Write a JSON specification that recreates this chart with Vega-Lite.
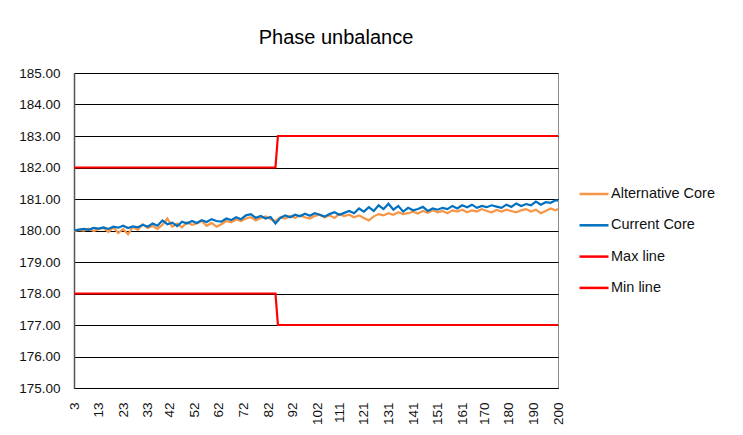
{
  "$schema": "https://vega.github.io/schema/vega-lite/v6.json",
  "width": 484,
  "height": 315,
  "padding": {"left": 18, "top": 28, "right": 5, "bottom": 5},
  "background": "white",
  "config": {
    "font": "Liberation Sans",
    "view": {"stroke": "#8c8c8c", "strokeWidth": 1}
  },
  "title": {
    "text": "Phase unbalance",
    "fontSize": 20,
    "fontWeight": "normal",
    "color": "#000000",
    "font": "Liberation Sans",
    "anchor": "middle",
    "dx": 20,
    "offset": 18
  },
  "data": {
    "values": [
      {"series": "Alternative Core", "x": 3, "v": 179.98},
      {"series": "Alternative Core", "x": 5, "v": 180.02},
      {"series": "Alternative Core", "x": 7, "v": 180.00},
      {"series": "Alternative Core", "x": 9, "v": 180.06},
      {"series": "Alternative Core", "x": 11, "v": 179.98},
      {"series": "Alternative Core", "x": 13, "v": 180.04},
      {"series": "Alternative Core", "x": 15, "v": 180.08},
      {"series": "Alternative Core", "x": 17, "v": 179.95},
      {"series": "Alternative Core", "x": 19, "v": 180.10},
      {"series": "Alternative Core", "x": 21, "v": 179.92},
      {"series": "Alternative Core", "x": 23, "v": 180.05},
      {"series": "Alternative Core", "x": 25, "v": 179.88},
      {"series": "Alternative Core", "x": 27, "v": 180.12},
      {"series": "Alternative Core", "x": 29, "v": 180.02},
      {"series": "Alternative Core", "x": 31, "v": 180.20},
      {"series": "Alternative Core", "x": 33, "v": 180.08},
      {"series": "Alternative Core", "x": 35, "v": 180.14},
      {"series": "Alternative Core", "x": 37, "v": 180.05},
      {"series": "Alternative Core", "x": 39, "v": 180.18},
      {"series": "Alternative Core", "x": 41, "v": 180.38},
      {"series": "Alternative Core", "x": 43, "v": 180.12},
      {"series": "Alternative Core", "x": 45, "v": 180.22},
      {"series": "Alternative Core", "x": 47, "v": 180.10},
      {"series": "Alternative Core", "x": 49, "v": 180.26},
      {"series": "Alternative Core", "x": 51, "v": 180.18},
      {"series": "Alternative Core", "x": 53, "v": 180.22},
      {"series": "Alternative Core", "x": 55, "v": 180.30},
      {"series": "Alternative Core", "x": 57, "v": 180.15},
      {"series": "Alternative Core", "x": 59, "v": 180.24},
      {"series": "Alternative Core", "x": 61, "v": 180.12},
      {"series": "Alternative Core", "x": 63, "v": 180.20},
      {"series": "Alternative Core", "x": 65, "v": 180.30},
      {"series": "Alternative Core", "x": 67, "v": 180.26},
      {"series": "Alternative Core", "x": 69, "v": 180.35},
      {"series": "Alternative Core", "x": 71, "v": 180.30},
      {"series": "Alternative Core", "x": 73, "v": 180.38},
      {"series": "Alternative Core", "x": 75, "v": 180.42},
      {"series": "Alternative Core", "x": 77, "v": 180.32},
      {"series": "Alternative Core", "x": 79, "v": 180.40},
      {"series": "Alternative Core", "x": 81, "v": 180.45},
      {"series": "Alternative Core", "x": 83, "v": 180.36},
      {"series": "Alternative Core", "x": 85, "v": 180.30},
      {"series": "Alternative Core", "x": 87, "v": 180.42},
      {"series": "Alternative Core", "x": 89, "v": 180.38},
      {"series": "Alternative Core", "x": 91, "v": 180.46},
      {"series": "Alternative Core", "x": 93, "v": 180.40},
      {"series": "Alternative Core", "x": 95, "v": 180.48},
      {"series": "Alternative Core", "x": 97, "v": 180.42},
      {"series": "Alternative Core", "x": 99, "v": 180.38},
      {"series": "Alternative Core", "x": 101, "v": 180.46},
      {"series": "Alternative Core", "x": 103, "v": 180.50},
      {"series": "Alternative Core", "x": 105, "v": 180.42},
      {"series": "Alternative Core", "x": 107, "v": 180.48},
      {"series": "Alternative Core", "x": 109, "v": 180.40},
      {"series": "Alternative Core", "x": 111, "v": 180.52},
      {"series": "Alternative Core", "x": 113, "v": 180.46},
      {"series": "Alternative Core", "x": 115, "v": 180.50},
      {"series": "Alternative Core", "x": 117, "v": 180.42},
      {"series": "Alternative Core", "x": 119, "v": 180.48},
      {"series": "Alternative Core", "x": 121, "v": 180.40},
      {"series": "Alternative Core", "x": 123, "v": 180.32},
      {"series": "Alternative Core", "x": 125, "v": 180.45},
      {"series": "Alternative Core", "x": 127, "v": 180.52},
      {"series": "Alternative Core", "x": 129, "v": 180.48},
      {"series": "Alternative Core", "x": 131, "v": 180.55},
      {"series": "Alternative Core", "x": 133, "v": 180.50},
      {"series": "Alternative Core", "x": 135, "v": 180.58},
      {"series": "Alternative Core", "x": 137, "v": 180.52},
      {"series": "Alternative Core", "x": 139, "v": 180.55},
      {"series": "Alternative Core", "x": 141, "v": 180.60},
      {"series": "Alternative Core", "x": 143, "v": 180.54},
      {"series": "Alternative Core", "x": 145, "v": 180.62},
      {"series": "Alternative Core", "x": 147, "v": 180.56},
      {"series": "Alternative Core", "x": 149, "v": 180.64},
      {"series": "Alternative Core", "x": 151, "v": 180.58},
      {"series": "Alternative Core", "x": 153, "v": 180.62},
      {"series": "Alternative Core", "x": 155, "v": 180.55},
      {"series": "Alternative Core", "x": 157, "v": 180.64},
      {"series": "Alternative Core", "x": 159, "v": 180.60},
      {"series": "Alternative Core", "x": 161, "v": 180.66},
      {"series": "Alternative Core", "x": 163, "v": 180.58},
      {"series": "Alternative Core", "x": 165, "v": 180.64},
      {"series": "Alternative Core", "x": 167, "v": 180.60},
      {"series": "Alternative Core", "x": 169, "v": 180.68},
      {"series": "Alternative Core", "x": 171, "v": 180.62},
      {"series": "Alternative Core", "x": 173, "v": 180.58},
      {"series": "Alternative Core", "x": 175, "v": 180.65},
      {"series": "Alternative Core", "x": 177, "v": 180.60},
      {"series": "Alternative Core", "x": 179, "v": 180.66},
      {"series": "Alternative Core", "x": 181, "v": 180.62},
      {"series": "Alternative Core", "x": 183, "v": 180.58},
      {"series": "Alternative Core", "x": 185, "v": 180.64},
      {"series": "Alternative Core", "x": 187, "v": 180.68},
      {"series": "Alternative Core", "x": 189, "v": 180.60},
      {"series": "Alternative Core", "x": 191, "v": 180.66},
      {"series": "Alternative Core", "x": 193, "v": 180.55},
      {"series": "Alternative Core", "x": 195, "v": 180.62},
      {"series": "Alternative Core", "x": 197, "v": 180.70},
      {"series": "Alternative Core", "x": 199, "v": 180.64},
      {"series": "Alternative Core", "x": 200, "v": 180.68},
      {"series": "Current Core", "x": 3, "v": 180.00},
      {"series": "Current Core", "x": 5, "v": 180.03},
      {"series": "Current Core", "x": 7, "v": 180.05},
      {"series": "Current Core", "x": 9, "v": 180.02},
      {"series": "Current Core", "x": 11, "v": 180.08},
      {"series": "Current Core", "x": 13, "v": 180.06},
      {"series": "Current Core", "x": 15, "v": 180.10},
      {"series": "Current Core", "x": 17, "v": 180.05},
      {"series": "Current Core", "x": 19, "v": 180.12},
      {"series": "Current Core", "x": 21, "v": 180.09},
      {"series": "Current Core", "x": 23, "v": 180.15},
      {"series": "Current Core", "x": 25, "v": 180.08},
      {"series": "Current Core", "x": 27, "v": 180.13},
      {"series": "Current Core", "x": 29, "v": 180.10},
      {"series": "Current Core", "x": 31, "v": 180.18},
      {"series": "Current Core", "x": 33, "v": 180.12},
      {"series": "Current Core", "x": 35, "v": 180.22},
      {"series": "Current Core", "x": 37, "v": 180.15},
      {"series": "Current Core", "x": 39, "v": 180.32},
      {"series": "Current Core", "x": 41, "v": 180.20},
      {"series": "Current Core", "x": 43, "v": 180.25},
      {"series": "Current Core", "x": 45, "v": 180.14},
      {"series": "Current Core", "x": 47, "v": 180.28},
      {"series": "Current Core", "x": 49, "v": 180.22},
      {"series": "Current Core", "x": 51, "v": 180.30},
      {"series": "Current Core", "x": 53, "v": 180.24},
      {"series": "Current Core", "x": 55, "v": 180.33},
      {"series": "Current Core", "x": 57, "v": 180.27},
      {"series": "Current Core", "x": 59, "v": 180.36},
      {"series": "Current Core", "x": 61, "v": 180.30},
      {"series": "Current Core", "x": 63, "v": 180.28},
      {"series": "Current Core", "x": 65, "v": 180.38},
      {"series": "Current Core", "x": 67, "v": 180.33},
      {"series": "Current Core", "x": 69, "v": 180.42},
      {"series": "Current Core", "x": 71, "v": 180.36},
      {"series": "Current Core", "x": 73, "v": 180.48},
      {"series": "Current Core", "x": 75, "v": 180.52},
      {"series": "Current Core", "x": 77, "v": 180.40},
      {"series": "Current Core", "x": 79, "v": 180.46},
      {"series": "Current Core", "x": 81, "v": 180.38},
      {"series": "Current Core", "x": 83, "v": 180.43},
      {"series": "Current Core", "x": 85, "v": 180.22},
      {"series": "Current Core", "x": 87, "v": 180.40},
      {"series": "Current Core", "x": 89, "v": 180.48},
      {"series": "Current Core", "x": 91, "v": 180.42},
      {"series": "Current Core", "x": 93, "v": 180.50},
      {"series": "Current Core", "x": 95, "v": 180.45},
      {"series": "Current Core", "x": 97, "v": 180.53},
      {"series": "Current Core", "x": 99, "v": 180.47},
      {"series": "Current Core", "x": 101, "v": 180.55},
      {"series": "Current Core", "x": 103, "v": 180.50},
      {"series": "Current Core", "x": 105, "v": 180.44},
      {"series": "Current Core", "x": 107, "v": 180.52},
      {"series": "Current Core", "x": 109, "v": 180.58},
      {"series": "Current Core", "x": 111, "v": 180.50},
      {"series": "Current Core", "x": 113, "v": 180.56},
      {"series": "Current Core", "x": 115, "v": 180.62},
      {"series": "Current Core", "x": 117, "v": 180.55},
      {"series": "Current Core", "x": 119, "v": 180.70},
      {"series": "Current Core", "x": 121, "v": 180.60},
      {"series": "Current Core", "x": 123, "v": 180.74},
      {"series": "Current Core", "x": 125, "v": 180.62},
      {"series": "Current Core", "x": 127, "v": 180.80},
      {"series": "Current Core", "x": 129, "v": 180.68},
      {"series": "Current Core", "x": 131, "v": 180.85},
      {"series": "Current Core", "x": 133, "v": 180.66},
      {"series": "Current Core", "x": 135, "v": 180.78},
      {"series": "Current Core", "x": 137, "v": 180.60},
      {"series": "Current Core", "x": 139, "v": 180.72},
      {"series": "Current Core", "x": 141, "v": 180.64},
      {"series": "Current Core", "x": 143, "v": 180.68},
      {"series": "Current Core", "x": 145, "v": 180.75},
      {"series": "Current Core", "x": 147, "v": 180.62},
      {"series": "Current Core", "x": 149, "v": 180.70},
      {"series": "Current Core", "x": 151, "v": 180.66},
      {"series": "Current Core", "x": 153, "v": 180.72},
      {"series": "Current Core", "x": 155, "v": 180.68},
      {"series": "Current Core", "x": 157, "v": 180.78},
      {"series": "Current Core", "x": 159, "v": 180.70},
      {"series": "Current Core", "x": 161, "v": 180.80},
      {"series": "Current Core", "x": 163, "v": 180.74},
      {"series": "Current Core", "x": 165, "v": 180.82},
      {"series": "Current Core", "x": 167, "v": 180.72},
      {"series": "Current Core", "x": 169, "v": 180.78},
      {"series": "Current Core", "x": 171, "v": 180.74},
      {"series": "Current Core", "x": 173, "v": 180.80},
      {"series": "Current Core", "x": 175, "v": 180.76},
      {"series": "Current Core", "x": 177, "v": 180.72},
      {"series": "Current Core", "x": 179, "v": 180.82},
      {"series": "Current Core", "x": 181, "v": 180.75},
      {"series": "Current Core", "x": 183, "v": 180.86},
      {"series": "Current Core", "x": 185, "v": 180.78},
      {"series": "Current Core", "x": 187, "v": 180.84},
      {"series": "Current Core", "x": 189, "v": 180.80},
      {"series": "Current Core", "x": 191, "v": 180.92},
      {"series": "Current Core", "x": 193, "v": 180.82},
      {"series": "Current Core", "x": 195, "v": 180.90},
      {"series": "Current Core", "x": 197, "v": 180.88},
      {"series": "Current Core", "x": 199, "v": 180.96},
      {"series": "Current Core", "x": 200, "v": 180.95},
      {"series": "Max line", "x": 3, "v": 182},
      {"series": "Max line", "x": 85, "v": 182},
      {"series": "Max line", "x": 86, "v": 183},
      {"series": "Max line", "x": 200, "v": 183},
      {"series": "Min line", "x": 3, "v": 178},
      {"series": "Min line", "x": 85, "v": 178},
      {"series": "Min line", "x": 86, "v": 177},
      {"series": "Min line", "x": 200, "v": 177}
    ]
  },
  "mark": {"type": "line", "strokeWidth": 2.2, "clip": true},
  "encoding": {
    "x": {
      "field": "x",
      "type": "quantitative",
      "scale": {"domain": [3, 200], "nice": false, "zero": false},
      "axis": {
        "title": null,
        "values": [3, 13, 23, 33, 42, 52, 62, 72, 82, 92, 102, 111, 121, 131, 141, 151, 161, 170, 180, 190, 200],
        "labelAngle": -90,
        "labelFontSize": 13.5,
        "labelColor": "#111111",
        "labelPadding": 14,
        "ticks": false,
        "tickSize": 0,
        "grid": false,
        "domainColor": "#000000",
        "domainWidth": 1,
        "labelFlush": false,
        "labelOverlap": false
      }
    },
    "y": {
      "field": "v",
      "type": "quantitative",
      "scale": {"domain": [175, 185], "nice": false, "zero": false},
      "axis": {
        "title": null,
        "values": [175, 176, 177, 178, 179, 180, 181, 182, 183, 184, 185],
        "format": ".2f",
        "labelFontSize": 13.5,
        "labelColor": "#111111",
        "labelPadding": 14,
        "ticks": false,
        "tickSize": 0,
        "grid": true,
        "gridColor": "#000000",
        "gridWidth": 1,
        "domainColor": "#555555",
        "domainWidth": 1.5
      }
    },
    "color": {
      "field": "series",
      "type": "nominal",
      "scale": {
        "domain": ["Alternative Core", "Current Core", "Max line", "Min line"],
        "range": ["#F79646", "#0070C0", "#FF0000", "#FF0000"]
      },
      "legend": {
        "title": null,
        "orient": "none",
        "legendX": 504,
        "legendY": 105,
        "padding": 0,
        "symbolType": "stroke",
        "symbolSize": 841,
        "symbolStrokeWidth": 2.5,
        "rowPadding": 8.3,
        "labelOffset": 1,
        "labelFontSize": 14.5,
        "labelColor": "#111111",
        "labelFont": "Liberation Sans"
      }
    }
  }
}
